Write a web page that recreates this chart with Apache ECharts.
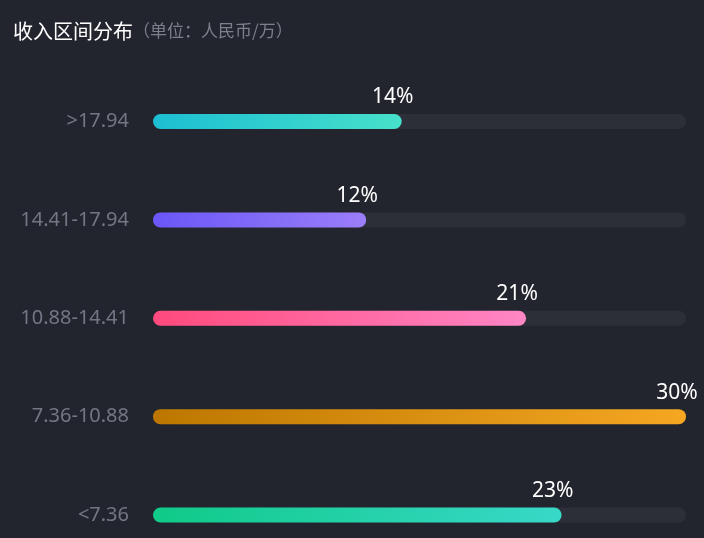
<!DOCTYPE html>
<html>
<head>
<meta charset="utf-8">
<script src="https://cdn.jsdelivr.net/npm/echarts@6/dist/echarts.min.js"></script>
<style>
html,body{margin:0;padding:0;background:#23252e;}
#main{width:704px;height:538px;}
</style>
</head>
<body>
<div id="main"></div>
<script>
var categories = ['>17.94', '14.41-17.94', '10.88-14.41', '7.36-10.88', '<7.36'];
var values = [14, 12, 21, 30, 23];
var gradients = [
  ['#1cbfd2', '#47e0cb'],
  ['#6a57f8', '#9b7ef9'],
  ['#ff4a7c', '#ff86c5'],
  ['#bd7700', '#f5a722'],
  ['#0fca88', '#38d8c8']
];

var chart = echarts.init(document.getElementById('main'));
var font = "'Noto Sans', 'Noto Sans CJK SC', sans-serif";
chart.setOption({
  backgroundColor: '#23252e',
  animation: false,
  title: {
    left: 8,
    top: 16,
    text: '{a|收入区间分布}{b|（单位：人民币/万）}',
    textStyle: {
      rich: {
        a: { color: '#ffffff', fontSize: 20, fontWeight: 'normal', fontFamily: "'Noto Sans CJK SC', sans-serif" },
        b: { color: '#7d808c', fontSize: 17, fontWeight: 'normal', fontFamily: "'Noto Sans CJK SC', sans-serif" }
      }
    }
  },
  grid: { left: 153, right: 18, top: 121.5, bottom: 23, outerBoundsMode: 'none' },
  xAxis: {
    type: 'value', min: 0, max: 30, show: false
  },
  yAxis: {
    type: 'category',
    inverse: true,
    boundaryGap: false,
    data: categories,
    axisLine: { show: false },
    axisTick: { show: false },
    splitLine: { show: false },
    axisLabel: { color: '#737784', fontSize: 20, margin: 24, fontFamily: font }
  },
  series: [{
    type: 'bar',
    barWidth: 15,
    showBackground: true,
    backgroundStyle: { color: '#2c2f38', borderRadius: 8 },
    data: values.map(function (v, i) {
      return {
        value: v,
        itemStyle: {
          borderRadius: 8,
          color: new echarts.graphic.LinearGradient(0, 0, 1, 0, [
            { offset: 0, color: gradients[i][0] },
            { offset: 1, color: gradients[i][1] }
          ])
        }
      };
    }),
    label: {
      show: true,
      position: ['100%', 0],
      align: 'center',
      verticalAlign: 'bottom',
      offset: [-9, -6],
      color: '#ffffff',
      fontSize: 21,
      fontFamily: font,
      formatter: '{c}%'
    }
  }]
});
</script>
</body>
</html>
